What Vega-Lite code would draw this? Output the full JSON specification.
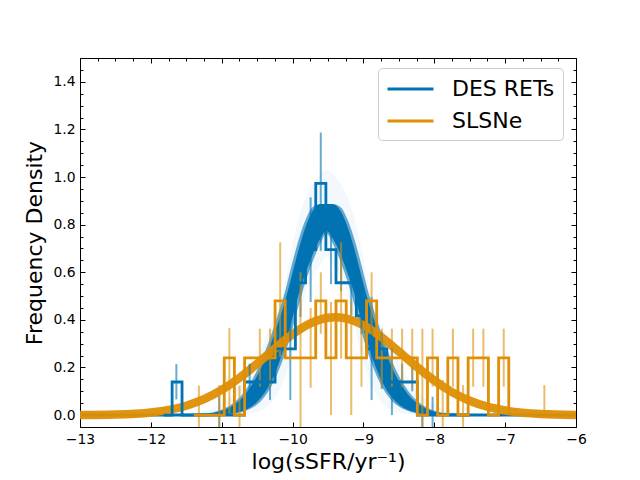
{
  "$schema": "https://vega.github.io/schema/vega-lite/v6.json",
  "width": 496,
  "height": 369,
  "autosize": {"type": "none"},
  "padding": {"left": 80, "top": 58, "right": 64, "bottom": 53},
  "background": "white",
  "config": {
    "font": "DejaVu Sans",
    "view": {"stroke": "black", "strokeWidth": 1},
    "axis": {
      "domain": false,
      "grid": false,
      "tickColor": "black",
      "tickWidth": 1,
      "labelColor": "black",
      "titleColor": "black",
      "labelFont": "DejaVu Sans",
      "titleFont": "DejaVu Sans",
      "labelFontSize": 13.9,
      "titleFontSize": 22,
      "titleFontWeight": "normal",
      "labelOverlap": false,
      "labelFlush": false
    },
    "legend": {
      "labelFont": "DejaVu Sans",
      "labelFontSize": 22,
      "labelColor": "black"
    }
  },
  "datasets": {
    "blueband": [
      {"x": -13, "lo": 0, "hi": 0, "wlo": 0, "whi": 0, "olo": 0, "ohi": 0, "mid": 0},
      {"x": -11.92, "lo": 0, "hi": 0, "wlo": 0, "whi": 0, "olo": 0, "ohi": 0.0004, "mid": 0},
      {"x": -11.52, "lo": 0, "hi": 0.001, "wlo": 0, "whi": 0.001, "olo": 0, "ohi": 0.004, "mid": 0},
      {"x": -11.32, "lo": 0, "hi": 0.003, "wlo": 0, "whi": 0.003, "olo": 0, "ohi": 0.012, "mid": 0.001},
      {"x": -11.12, "lo": 0.001, "hi": 0.009, "wlo": 0.001, "whi": 0.012, "olo": 0, "ohi": 0.03, "mid": 0.003},
      {"x": -11.02, "lo": 0.002, "hi": 0.016, "wlo": 0.001, "whi": 0.02, "olo": 0, "ohi": 0.046, "mid": 0.006},
      {"x": -10.92, "lo": 0.004, "hi": 0.028, "wlo": 0.003, "whi": 0.034, "olo": 0, "ohi": 0.067, "mid": 0.012},
      {"x": -10.82, "lo": 0.008, "hi": 0.045, "wlo": 0.006, "whi": 0.054, "olo": 0.001, "ohi": 0.096, "mid": 0.021},
      {"x": -10.72, "lo": 0.016, "hi": 0.07, "wlo": 0.012, "whi": 0.083, "olo": 0.002, "ohi": 0.134, "mid": 0.037},
      {"x": -10.62, "lo": 0.029, "hi": 0.106, "wlo": 0.023, "whi": 0.124, "olo": 0.005, "ohi": 0.18, "mid": 0.06},
      {"x": -10.52, "lo": 0.05, "hi": 0.154, "wlo": 0.04, "whi": 0.177, "olo": 0.011, "ohi": 0.235, "mid": 0.095},
      {"x": -10.42, "lo": 0.083, "hi": 0.215, "wlo": 0.068, "whi": 0.243, "olo": 0.023, "ohi": 0.298, "mid": 0.143},
      {"x": -10.32, "lo": 0.131, "hi": 0.289, "wlo": 0.11, "whi": 0.322, "olo": 0.046, "ohi": 0.367, "mid": 0.207},
      {"x": -10.22, "lo": 0.197, "hi": 0.374, "wlo": 0.169, "whi": 0.41, "olo": 0.086, "ohi": 0.44, "mid": 0.287},
      {"x": -10.12, "lo": 0.283, "hi": 0.465, "wlo": 0.247, "whi": 0.504, "olo": 0.15, "ohi": 0.538, "mid": 0.38},
      {"x": -10.02, "lo": 0.386, "hi": 0.574, "wlo": 0.343, "whi": 0.621, "olo": 0.243, "ohi": 0.687, "mid": 0.483},
      {"x": -9.92, "lo": 0.502, "hi": 0.689, "wlo": 0.455, "whi": 0.731, "olo": 0.368, "ohi": 0.82, "mid": 0.587},
      {"x": -9.82, "lo": 0.593, "hi": 0.787, "wlo": 0.557, "whi": 0.818, "olo": 0.509, "ohi": 0.91, "mid": 0.684},
      {"x": -9.72, "lo": 0.673, "hi": 0.856, "wlo": 0.642, "whi": 0.873, "olo": 0.573, "ohi": 0.97, "mid": 0.762},
      {"x": -9.62, "lo": 0.735, "hi": 0.886, "wlo": 0.713, "whi": 0.886, "olo": 0.627, "ohi": 1.01, "mid": 0.813},
      {"x": -9.52, "lo": 0.773, "hi": 0.887, "wlo": 0.761, "whi": 0.887, "olo": 0.665, "ohi": 1.03, "mid": 0.831},
      {"x": -9.42, "lo": 0.735, "hi": 0.886, "wlo": 0.713, "whi": 0.886, "olo": 0.627, "ohi": 1.01, "mid": 0.813},
      {"x": -9.32, "lo": 0.673, "hi": 0.856, "wlo": 0.642, "whi": 0.873, "olo": 0.573, "ohi": 0.97, "mid": 0.762},
      {"x": -9.22, "lo": 0.593, "hi": 0.787, "wlo": 0.557, "whi": 0.818, "olo": 0.509, "ohi": 0.91, "mid": 0.684},
      {"x": -9.12, "lo": 0.502, "hi": 0.689, "wlo": 0.455, "whi": 0.731, "olo": 0.368, "ohi": 0.82, "mid": 0.587},
      {"x": -9.02, "lo": 0.386, "hi": 0.574, "wlo": 0.343, "whi": 0.621, "olo": 0.243, "ohi": 0.687, "mid": 0.483},
      {"x": -8.92, "lo": 0.283, "hi": 0.465, "wlo": 0.247, "whi": 0.504, "olo": 0.15, "ohi": 0.538, "mid": 0.38},
      {"x": -8.82, "lo": 0.197, "hi": 0.374, "wlo": 0.169, "whi": 0.41, "olo": 0.086, "ohi": 0.44, "mid": 0.287},
      {"x": -8.72, "lo": 0.131, "hi": 0.289, "wlo": 0.11, "whi": 0.322, "olo": 0.046, "ohi": 0.367, "mid": 0.207},
      {"x": -8.62, "lo": 0.083, "hi": 0.215, "wlo": 0.068, "whi": 0.243, "olo": 0.023, "ohi": 0.298, "mid": 0.143},
      {"x": -8.52, "lo": 0.05, "hi": 0.154, "wlo": 0.04, "whi": 0.177, "olo": 0.011, "ohi": 0.235, "mid": 0.095},
      {"x": -8.42, "lo": 0.029, "hi": 0.106, "wlo": 0.023, "whi": 0.124, "olo": 0.005, "ohi": 0.18, "mid": 0.06},
      {"x": -8.32, "lo": 0.016, "hi": 0.07, "wlo": 0.012, "whi": 0.083, "olo": 0.002, "ohi": 0.134, "mid": 0.037},
      {"x": -8.22, "lo": 0.008, "hi": 0.045, "wlo": 0.006, "whi": 0.054, "olo": 0.001, "ohi": 0.096, "mid": 0.021},
      {"x": -8.12, "lo": 0.004, "hi": 0.028, "wlo": 0.003, "whi": 0.034, "olo": 0, "ohi": 0.067, "mid": 0.012},
      {"x": -8.02, "lo": 0.002, "hi": 0.016, "wlo": 0.001, "whi": 0.02, "olo": 0, "ohi": 0.046, "mid": 0.006},
      {"x": -7.92, "lo": 0.001, "hi": 0.009, "wlo": 0.001, "whi": 0.012, "olo": 0, "ohi": 0.03, "mid": 0.003},
      {"x": -7.72, "lo": 0, "hi": 0.003, "wlo": 0, "whi": 0.003, "olo": 0, "ohi": 0.012, "mid": 0.001},
      {"x": -7.52, "lo": 0, "hi": 0.001, "wlo": 0, "whi": 0.001, "olo": 0, "ohi": 0.004, "mid": 0},
      {"x": -7.12, "lo": 0, "hi": 0, "wlo": 0, "whi": 0, "olo": 0, "ohi": 0.0004, "mid": 0},
      {"x": -6, "lo": 0, "hi": 0, "wlo": 0, "whi": 0, "olo": 0, "ohi": 0, "mid": 0}
    ],
    "orangecurve": [
      {"x": -13, "y": 0.0004},
      {"x": -12.5, "y": 0.0025},
      {"x": -12, "y": 0.0113},
      {"x": -11.5, "y": 0.0395},
      {"x": -11.25, "y": 0.0667},
      {"x": -11, "y": 0.1055},
      {"x": -10.75, "y": 0.1561},
      {"x": -10.5, "y": 0.2161},
      {"x": -10.25, "y": 0.28},
      {"x": -10, "y": 0.3394},
      {"x": -9.75, "y": 0.3851},
      {"x": -9.5, "y": 0.4088},
      {"x": -9.4, "y": 0.411},
      {"x": -9.25, "y": 0.4061},
      {"x": -9, "y": 0.3775},
      {"x": -8.75, "y": 0.3283},
      {"x": -8.5, "y": 0.2672},
      {"x": -8.25, "y": 0.2035},
      {"x": -8, "y": 0.1451},
      {"x": -7.75, "y": 0.0967},
      {"x": -7.5, "y": 0.0603},
      {"x": -7.25, "y": 0.0352},
      {"x": -7, "y": 0.0192},
      {"x": -6.5, "y": 0.0047},
      {"x": -6, "y": 0.0009}
    ],
    "hist": [
      {"series": "DES RETs", "x": -11.82, "y": 0},
      {"series": "DES RETs", "x": -11.7, "y": 0.139},
      {"series": "DES RETs", "x": -11.56, "y": 0},
      {"series": "DES RETs", "x": -10.677, "y": 0.139},
      {"series": "DES RETs", "x": -10.247, "y": 0.278},
      {"series": "DES RETs", "x": -9.96, "y": 0.556},
      {"series": "DES RETs", "x": -9.817, "y": 0.695},
      {"series": "DES RETs", "x": -9.673, "y": 0.973},
      {"series": "DES RETs", "x": -9.53, "y": 0.695},
      {"series": "DES RETs", "x": -9.387, "y": 0.556},
      {"series": "DES RETs", "x": -9.1, "y": 0.417},
      {"series": "DES RETs", "x": -8.956, "y": 0.278},
      {"series": "DES RETs", "x": -8.67, "y": 0.139},
      {"series": "DES RETs", "x": -8.239, "y": 0},
      {"series": "DES RETs", "x": -7.5, "y": 0},
      {"series": "SLSNe", "x": -11.394, "y": 0},
      {"series": "SLSNe", "x": -10.964, "y": 0.24},
      {"series": "SLSNe", "x": -10.821, "y": 0},
      {"series": "SLSNe", "x": -10.677, "y": 0.24},
      {"series": "SLSNe", "x": -10.247, "y": 0.48},
      {"series": "SLSNe", "x": -10.104, "y": 0.24},
      {"series": "SLSNe", "x": -9.673, "y": 0.48},
      {"series": "SLSNe", "x": -9.53, "y": 0.24},
      {"series": "SLSNe", "x": -9.387, "y": 0.48},
      {"series": "SLSNe", "x": -9.243, "y": 0.24},
      {"series": "SLSNe", "x": -8.956, "y": 0.48},
      {"series": "SLSNe", "x": -8.813, "y": 0.24},
      {"series": "SLSNe", "x": -8.239, "y": 0},
      {"series": "SLSNe", "x": -8.096, "y": 0.24},
      {"series": "SLSNe", "x": -7.953, "y": 0},
      {"series": "SLSNe", "x": -7.809, "y": 0.24},
      {"series": "SLSNe", "x": -7.666, "y": 0},
      {"series": "SLSNe", "x": -7.522, "y": 0.24},
      {"series": "SLSNe", "x": -7.236, "y": 0},
      {"series": "SLSNe", "x": -7.092, "y": 0.24},
      {"series": "SLSNe", "x": -6.949, "y": 0}
    ],
    "err": [
      {"series": "DES RETs", "x": -11.64, "lo": 0.066, "hi": 0.214},
      {"series": "DES RETs", "x": -11.035, "lo": -0.08, "hi": 0.08},
      {"series": "DES RETs", "x": -10.606, "lo": 0.063, "hi": 0.216},
      {"series": "DES RETs", "x": -10.318, "lo": 0.063, "hi": 0.23},
      {"series": "DES RETs", "x": -10.032, "lo": 0.063, "hi": 0.49},
      {"series": "DES RETs", "x": -9.888, "lo": 0.412, "hi": 0.705},
      {"series": "DES RETs", "x": -9.745, "lo": 0.475, "hi": 0.915},
      {"series": "DES RETs", "x": -9.602, "lo": 0.69, "hi": 1.187},
      {"series": "DES RETs", "x": -9.458, "lo": 0.55, "hi": 0.84},
      {"series": "DES RETs", "x": -9.315, "lo": 0.52, "hi": 0.72},
      {"series": "DES RETs", "x": -9.172, "lo": 0.42, "hi": 0.7},
      {"series": "DES RETs", "x": -9.028, "lo": 0.34, "hi": 0.55},
      {"series": "DES RETs", "x": -8.885, "lo": 0.063, "hi": 0.496},
      {"series": "DES RETs", "x": -8.741, "lo": 0.11, "hi": 0.35},
      {"series": "DES RETs", "x": -8.598, "lo": 0, "hi": 0.28},
      {"series": "DES RETs", "x": -8.454, "lo": 0.07, "hi": 0.217},
      {"series": "DES RETs", "x": -8.311, "lo": 0.1, "hi": 0.2},
      {"series": "DES RETs", "x": -8.168, "lo": -0.05, "hi": 0.04},
      {"series": "DES RETs", "x": -8.024, "lo": -0.077, "hi": 0.077},
      {"series": "SLSNe", "x": -11.322, "lo": -0.124, "hi": 0.124},
      {"series": "SLSNe", "x": -11.035, "lo": -0.126, "hi": 0.126},
      {"series": "SLSNe", "x": -10.892, "lo": 0, "hi": 0.365},
      {"series": "SLSNe", "x": -10.749, "lo": -0.124, "hi": 0.124},
      {"series": "SLSNe", "x": -10.462, "lo": 0.119, "hi": 0.363},
      {"series": "SLSNe", "x": -10.318, "lo": 0.119, "hi": 0.363},
      {"series": "SLSNe", "x": -10.175, "lo": 0.244, "hi": 0.726},
      {"series": "SLSNe", "x": -9.888, "lo": -0.12, "hi": 0.6},
      {"series": "SLSNe", "x": -9.745, "lo": 0.115, "hi": 0.45},
      {"series": "SLSNe", "x": -9.602, "lo": 0.342, "hi": 0.6},
      {"series": "SLSNe", "x": -9.458, "lo": 0, "hi": 0.475},
      {"series": "SLSNe", "x": -9.315, "lo": 0.237, "hi": 0.726},
      {"series": "SLSNe", "x": -9.172, "lo": 0, "hi": 0.48},
      {"series": "SLSNe", "x": -9.028, "lo": 0.119, "hi": 0.363},
      {"series": "SLSNe", "x": -8.885, "lo": 0.342, "hi": 0.6},
      {"series": "SLSNe", "x": -8.741, "lo": 0.119, "hi": 0.363},
      {"series": "SLSNe", "x": -8.598, "lo": 0.119, "hi": 0.363},
      {"series": "SLSNe", "x": -8.454, "lo": 0.119, "hi": 0.363},
      {"series": "SLSNe", "x": -8.311, "lo": 0.119, "hi": 0.363},
      {"series": "SLSNe", "x": -8.168, "lo": -0.05, "hi": 0.363},
      {"series": "SLSNe", "x": -8.024, "lo": 0.119, "hi": 0.363},
      {"series": "SLSNe", "x": -7.881, "lo": -0.12, "hi": 0.147},
      {"series": "SLSNe", "x": -7.737, "lo": 0.119, "hi": 0.363},
      {"series": "SLSNe", "x": -7.594, "lo": -0.12, "hi": 0.126},
      {"series": "SLSNe", "x": -7.451, "lo": 0.119, "hi": 0.363},
      {"series": "SLSNe", "x": -7.307, "lo": 0.119, "hi": 0.363},
      {"series": "SLSNe", "x": -7.02, "lo": 0.119, "hi": 0.363},
      {"series": "SLSNe", "x": -6.446, "lo": 0, "hi": 0.126}
    ]
  },
  "layer": [
    {
      "data": {"name": "blueband"},
      "mark": {"type": "area", "color": "#0173B2", "opacity": 0.05, "interpolate": "monotone", "clip": true},
      "encoding": {
        "x": {
          "field": "x",
          "type": "quantitative",
          "scale": {"domain": [-13, -6], "nice": false, "zero": false},
          "axis": {
            "orient": "bottom",
            "title": "log(sSFR/yr⁻¹)",
            "titlePadding": 6,
            "values": [-13, -12.75, -12.5, -12.25, -12, -11.75, -11.5, -11.25, -11, -10.75, -10.5, -10.25, -10, -9.75, -9.5, -9.25, -9, -8.75, -8.5, -8.25, -8, -7.75, -7.5, -7.25, -7, -6.75, -6.5, -6.25, -6],
            "format": "d",
            "labelExpr": "datum.value % 1 == 0 ? datum.label : ''",
            "tickSize": {"condition": {"test": "datum.value % 1 == 0", "value": -5}, "value": -3},
            "labelPadding": 10
          }
        },
        "y": {
          "field": "olo",
          "type": "quantitative",
          "scale": {"domain": [-0.05, 1.5], "nice": false, "zero": false},
          "axis": {
            "orient": "left",
            "title": "Frequency Density",
            "titlePadding": 6,
            "values": [-0.05, 0, 0.05, 0.1, 0.15, 0.2, 0.25, 0.3, 0.35, 0.4, 0.45, 0.5, 0.55, 0.6, 0.65, 0.7, 0.75, 0.8, 0.85, 0.9, 0.95, 1, 1.05, 1.1, 1.15, 1.2, 1.25, 1.3, 1.35, 1.4, 1.45, 1.5],
            "format": ".1f",
            "labelExpr": "abs(datum.value * 5 - round(datum.value * 5)) < 0.001 ? datum.label : ''",
            "tickSize": {"condition": {"test": "abs(datum.value * 5 - round(datum.value * 5)) < 0.001", "value": -5}, "value": -3},
            "labelPadding": 10
          }
        },
        "y2": {"field": "ohi"}
      }
    },
    {
      "data": {"name": "blueband"},
      "mark": {"type": "area", "color": "#0173B2", "opacity": 0.6, "interpolate": "monotone", "clip": true},
      "encoding": {
        "x": {
          "field": "x",
          "type": "quantitative",
          "axis": {
            "orient": "top",
            "title": null,
            "labels": false,
            "values": [-13, -12.75, -12.5, -12.25, -12, -11.75, -11.5, -11.25, -11, -10.75, -10.5, -10.25, -10, -9.75, -9.5, -9.25, -9, -8.75, -8.5, -8.25, -8, -7.75, -7.5, -7.25, -7, -6.75, -6.5, -6.25, -6],
            "tickSize": {"condition": {"test": "datum.value % 1 == 0", "value": -5}, "value": -3}
          }
        },
        "y": {
          "field": "wlo",
          "type": "quantitative",
          "axis": {
            "orient": "right",
            "title": null,
            "labels": false,
            "values": [-0.05, 0, 0.05, 0.1, 0.15, 0.2, 0.25, 0.3, 0.35, 0.4, 0.45, 0.5, 0.55, 0.6, 0.65, 0.7, 0.75, 0.8, 0.85, 0.9, 0.95, 1, 1.05, 1.1, 1.15, 1.2, 1.25, 1.3, 1.35, 1.4, 1.45, 1.5],
            "tickSize": {"condition": {"test": "abs(datum.value * 5 - round(datum.value * 5)) < 0.001", "value": -5}, "value": -3}
          }
        },
        "y2": {"field": "whi"}
      }
    },
    {
      "data": {"name": "blueband"},
      "mark": {"type": "area", "color": "#0173B2", "opacity": 1, "interpolate": "monotone", "clip": true},
      "encoding": {
        "x": {"field": "x", "type": "quantitative", "axis": null},
        "y": {"field": "lo", "type": "quantitative", "axis": null},
        "y2": {"field": "hi"}
      }
    },
    {
      "data": {"name": "blueband"},
      "mark": {"type": "line", "color": "#0173B2", "strokeWidth": 3, "interpolate": "monotone", "clip": true},
      "encoding": {
        "x": {"field": "x", "type": "quantitative", "axis": null},
        "y": {"field": "mid", "type": "quantitative", "axis": null}
      }
    },
    {
      "data": {"name": "orangecurve"},
      "mark": {"type": "line", "color": "#DE8F05", "strokeWidth": 8.5, "opacity": 0.95, "interpolate": "monotone", "clip": true},
      "encoding": {
        "x": {"field": "x", "type": "quantitative", "axis": null},
        "y": {"field": "y", "type": "quantitative", "axis": null}
      }
    },
    {
      "data": {"name": "err"},
      "transform": [{"filter": "datum.series == 'DES RETs'"}],
      "mark": {"type": "rule", "color": "#0173B2", "strokeWidth": 2, "opacity": 0.6, "clip": true},
      "encoding": {
        "x": {"field": "x", "type": "quantitative", "axis": null},
        "y": {"field": "lo", "type": "quantitative", "axis": null},
        "y2": {"field": "hi"}
      }
    },
    {
      "data": {"name": "err"},
      "transform": [{"filter": "datum.series == 'SLSNe'"}],
      "mark": {"type": "rule", "color": "#DE8F05", "strokeWidth": 2, "opacity": 0.6, "clip": true},
      "encoding": {
        "x": {"field": "x", "type": "quantitative", "axis": null},
        "y": {"field": "lo", "type": "quantitative", "axis": null},
        "y2": {"field": "hi"}
      }
    },
    {
      "data": {"name": "hist"},
      "mark": {"type": "line", "strokeWidth": 2.8, "interpolate": "step-after", "clip": true},
      "encoding": {
        "x": {"field": "x", "type": "quantitative", "axis": null},
        "y": {"field": "y", "type": "quantitative", "axis": null},
        "color": {
          "field": "series",
          "type": "nominal",
          "scale": {"domain": ["DES RETs", "SLSNe"], "range": ["#0173B2", "#DE8F05"]},
          "legend": {
            "title": null,
            "orient": "none",
            "legendX": 298,
            "legendY": 10,
            "symbolType": "M-2,0H2",
            "symbolSize": 529,
            "symbolStrokeWidth": 2.8,
            "symbolOpacity": 1,
            "symbolOffset": 11.5,
            "labelOffset": 28.5,
            "rowPadding": 8,
            "padding": 8,
            "strokeColor": "#cccccc",
            "fillColor": "rgba(255,255,255,0.8)",
            "cornerRadius": 4
          }
        }
      }
    }
  ],
  "resolve": {"axis": {"x": "independent", "y": "independent"}}
}
